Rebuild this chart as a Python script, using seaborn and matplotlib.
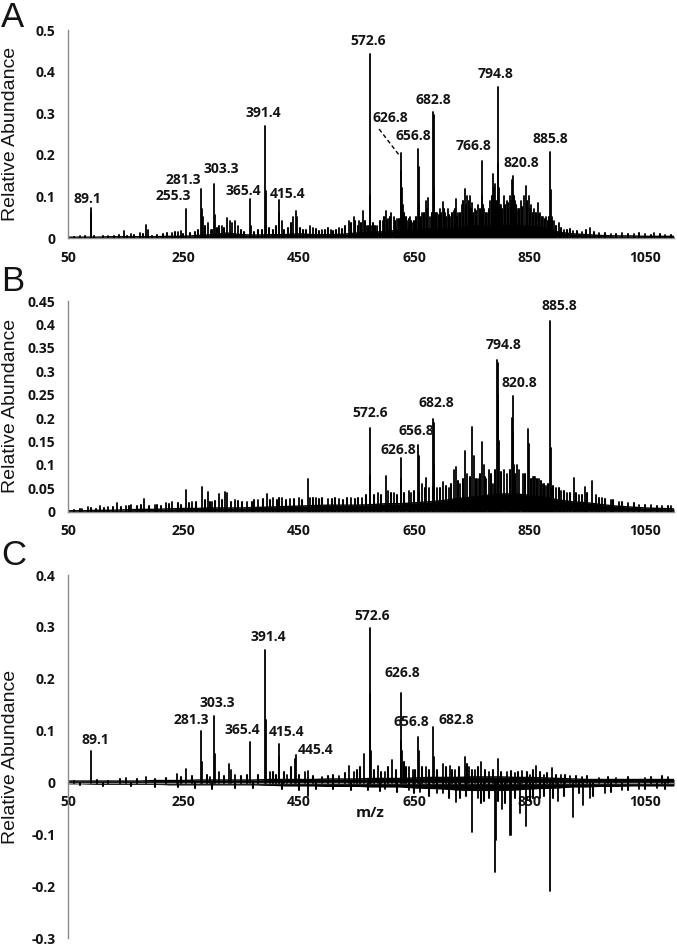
import numpy as np
import pandas as pd
import matplotlib
matplotlib.use("Agg")
import matplotlib.pyplot as plt
import seaborn as sns

sns.set_theme(style="white")
plt.rcParams["font.family"] = ["Open Sans", "DejaVu Sans"]

# ---------------- data ----------------
x_ticks = [50, 250, 450, 650, 850, 1050]

# noise-floor envelope (read every 25 m/z)
env_mz = [50, 75, 100, 125, 150, 175, 200, 225, 250, 275, 300, 325, 350, 375, 400,
          425, 450, 475, 500, 525, 550, 575, 600, 625, 650, 675, 700, 725, 750, 775,
          800, 825, 850, 875, 900, 925, 950, 975, 1000, 1025, 1050, 1075, 1100]

A_env = [0.002, 0.002, 0.002, 0.003, 0.003, 0.003, 0.003, 0.004, 0.004, 0.006, 0.008,
         0.012, 0.008, 0.007, 0.008, 0.008, 0.010, 0.008, 0.008, 0.009, 0.012, 0.014,
         0.015, 0.020, 0.018, 0.022, 0.022, 0.024, 0.030, 0.028, 0.030, 0.030, 0.028,
         0.024, 0.014, 0.010, 0.008, 0.006, 0.005, 0.005, 0.004, 0.004, 0.004]

B_env = [0.002, 0.002, 0.003, 0.003, 0.004, 0.005, 0.005, 0.006, 0.007, 0.007, 0.008,
         0.008, 0.008, 0.009, 0.010, 0.011, 0.012, 0.013, 0.014, 0.014, 0.014, 0.015,
         0.017, 0.017, 0.019, 0.021, 0.024, 0.028, 0.031, 0.035, 0.038, 0.038, 0.035,
         0.031, 0.025, 0.021, 0.019, 0.015, 0.012, 0.010, 0.008, 0.007, 0.006]

C_env_hi = [0.003, 0.003, 0.003, 0.003, 0.003, 0.003, 0.004, 0.004, 0.004, 0.005, 0.005,
            0.005, 0.005, 0.005, 0.006, 0.006, 0.006, 0.006, 0.007, 0.007, 0.007, 0.008,
            0.008, 0.008, 0.009, 0.010, 0.010, 0.010, 0.011, 0.011, 0.011, 0.010, 0.010,
            0.009, 0.008, 0.007, 0.006, 0.006, 0.006, 0.006, 0.006, 0.006, 0.006]
C_env_lo = [-0.002, -0.002, -0.003, -0.003, -0.003, -0.003, -0.003, -0.004, -0.004, -0.004,
            -0.004, -0.004, -0.004, -0.004, -0.005, -0.006, -0.006, -0.006, -0.007, -0.007,
            -0.007, -0.008, -0.008, -0.008, -0.010, -0.011, -0.012, -0.014, -0.015, -0.015,
            -0.015, -0.014, -0.012, -0.011, -0.010, -0.008, -0.008, -0.007, -0.007, -0.006,
            -0.006, -0.006, -0.006]

# Panel A peaks
A_mz = [89.1, 90.1, 255.3, 281.3, 282.3, 284.0, 303.3, 304.3, 365.4, 391.4, 392.4, 393.4,
        415.4, 416.4, 572.6, 573.6, 574.6, 626.8, 627.8, 628.8, 629.8, 656.8, 657.8, 658.8,
        682.8, 683.8, 684.8, 766.8, 767.8, 794.8, 795.8, 796.8, 820.8, 885.8, 886.8, 887.8,
        70, 120, 147, 160, 175, 186, 188, 230, 240, 245, 292, 298, 316, 325, 330, 335, 339,
        345, 367, 420, 440, 445, 447, 469, 475, 490, 505, 520, 537, 545, 555, 561, 566, 586,
        595, 600.6, 605, 610, 614, 620, 637, 642, 647, 664, 670, 674, 678, 690, 695, 699,
        703, 708, 713, 718, 722, 726, 732, 737.5, 742, 746, 750, 755, 760, 771, 777, 781,
        786.5, 790, 800, 805, 810, 815, 819, 825, 830, 835, 840, 843, 848, 852, 858, 864,
        868, 873, 878, 892, 900, 910, 925, 940, 955, 970, 990, 1010, 1030, 1050, 1065, 1085]
A_int = [0.071, 0.060, 0.069, 0.117, 0.070, 0.050, 0.131, 0.055, 0.093, 0.269, 0.112, 0.030,
         0.091, 0.060, 0.442, 0.103, 0.030, 0.204, 0.160, 0.120, 0.080, 0.213, 0.170, 0.080,
         0.304, 0.295, 0.120, 0.186, 0.100, 0.362, 0.180, 0.120, 0.148, 0.207, 0.115, 0.050,
         0.004, 0.006, 0.017, 0.010, 0.012, 0.031, 0.020, 0.012, 0.015, 0.018, 0.036, 0.020,
         0.030, 0.047, 0.040, 0.035, 0.040, 0.030, 0.030, 0.040, 0.050, 0.065, 0.050, 0.030,
         0.025, 0.020, 0.020, 0.025, 0.040, 0.050, 0.040, 0.065, 0.030, 0.030, 0.040, 0.065,
         0.045, 0.060, 0.050, 0.045, 0.040, 0.050, 0.035, 0.060, 0.090, 0.095, 0.050, 0.060,
         0.070, 0.087, 0.060, 0.070, 0.050, 0.065, 0.093, 0.060, 0.080, 0.117, 0.100, 0.100,
         0.085, 0.070, 0.080, 0.070, 0.060, 0.090, 0.155, 0.130, 0.080, 0.100, 0.090, 0.100,
         0.140, 0.090, 0.070, 0.090, 0.100, 0.125, 0.100, 0.080, 0.070, 0.083, 0.060, 0.050,
         0.050, 0.040, 0.035, 0.020, 0.018, 0.015, 0.025, 0.012, 0.010, 0.012, 0.010, 0.009,
         0.012, 0.008]
A_grass_mz = [60, 80, 95, 110, 130, 138, 152, 165, 180, 195, 205, 215, 222, 235, 250, 262,
              270, 275, 288, 300, 308, 312, 320, 350, 355, 372, 380, 386, 398, 405, 410, 425,
              432, 437, 452, 458, 463, 480, 485, 495, 500, 510, 515, 525, 530, 541, 548, 552,
              558, 564, 569, 578, 582, 590, 598, 603, 608, 617, 623, 632, 635, 640, 645, 650,
              653, 661, 667, 672, 680, 687, 692, 697, 701, 705, 711, 716, 720, 724, 729, 735,
              740, 744, 748, 752, 757, 763, 769, 774, 779, 784, 788, 792, 798, 802, 808, 812,
              817, 822, 827, 832, 837, 845, 850, 855, 861, 866, 871, 876, 881, 884, 889, 895,
              905, 915, 920, 932, 948, 962, 980, 1000, 1020, 1040, 1060, 1075, 1095]
A_grass_int = [0.003, 0.004, 0.005, 0.004, 0.006, 0.008, 0.006, 0.008, 0.010, 0.006, 0.008,
               0.010, 0.012, 0.015, 0.010, 0.012, 0.015, 0.020, 0.030, 0.020, 0.025, 0.030,
               0.025, 0.020, 0.015, 0.015, 0.020, 0.020, 0.025, 0.020, 0.030, 0.020, 0.025,
               0.035, 0.025, 0.020, 0.020, 0.022, 0.018, 0.020, 0.025, 0.018, 0.020, 0.022,
               0.030, 0.035, 0.040, 0.030, 0.035, 0.040, 0.030, 0.035, 0.030, 0.040, 0.050,
               0.040, 0.050, 0.040, 0.045, 0.060, 0.050, 0.045, 0.040, 0.040, 0.050, 0.050,
               0.060, 0.070, 0.060, 0.060, 0.055, 0.060, 0.070, 0.050, 0.055, 0.060, 0.070,
               0.050, 0.060, 0.090, 0.080, 0.090, 0.070, 0.060, 0.065, 0.070, 0.080, 0.060,
               0.070, 0.100, 0.120, 0.090, 0.080, 0.070, 0.080, 0.085, 0.090, 0.100, 0.080,
               0.070, 0.075, 0.090, 0.070, 0.060, 0.060, 0.055, 0.050, 0.045, 0.040, 0.050,
               0.040, 0.030, 0.025, 0.020, 0.022, 0.018, 0.020, 0.015, 0.012, 0.010, 0.010,
               0.012, 0.008, 0.010, 0.008]

# Panel B peaks
B_mz = [572.6, 573.6, 626.8, 627.8, 656.8, 657.8, 682.8, 683.8, 684.8, 792.8, 794.8, 795.8,
        796.8, 818.8, 820.8, 821.8, 822.8, 885.8, 886.8, 887.8,
        75, 85, 105, 120, 135, 150, 160, 181, 200, 220, 230, 254, 265, 282, 292, 300, 311,
        322, 326, 340, 360, 380, 395, 405, 420, 435, 450, 465.6, 470, 480, 500, 520, 540,
        560, 587, 600.6, 605, 615, 640, 645, 663, 671, 676, 690, 700, 710, 718, 722, 730,
        738.6, 742, 750.7, 753, 760, 767.5, 770, 775, 780, 786, 805, 810, 828, 832, 838,
        846.6, 849, 855, 860, 866, 872, 878, 895, 905, 915, 926.7, 935, 945, 957.9, 965,
        975, 990, 1005, 1020, 1040, 1060, 1080, 1095]
B_int = [0.179, 0.078, 0.114, 0.070, 0.142, 0.120, 0.197, 0.190, 0.100, 0.324, 0.318, 0.250,
         0.150, 0.200, 0.248, 0.170, 0.100, 0.408, 0.135, 0.050,
         0.005, 0.010, 0.012, 0.010, 0.018, 0.012, 0.015, 0.027, 0.015, 0.018, 0.020, 0.046,
         0.020, 0.053, 0.043, 0.020, 0.038, 0.043, 0.040, 0.025, 0.020, 0.025, 0.038, 0.030,
         0.030, 0.028, 0.030, 0.069, 0.030, 0.030, 0.028, 0.027, 0.030, 0.030, 0.040, 0.076,
         0.045, 0.040, 0.045, 0.040, 0.060, 0.071, 0.050, 0.050, 0.064, 0.050, 0.090, 0.095,
         0.060, 0.130, 0.080, 0.181, 0.120, 0.070, 0.148, 0.100, 0.070, 0.090, 0.060, 0.090,
         0.080, 0.100, 0.090, 0.080, 0.176, 0.145, 0.075, 0.075, 0.070, 0.060, 0.055, 0.050,
         0.045, 0.040, 0.071, 0.035, 0.053, 0.066, 0.035, 0.030, 0.025, 0.020, 0.018, 0.015,
         0.015, 0.012, 0.012]
B_grass_mz = [60, 70, 90, 98, 112, 128, 142, 155, 170, 176, 190, 205, 212, 225, 240, 246,
              260, 272, 287, 296, 305, 316, 333, 345, 352, 368, 373, 388, 400, 412, 415, 428,
              442, 456, 475, 485, 490, 508, 513, 527, 533, 548, 553, 566, 580, 593, 610, 620,
              633, 650, 658, 668, 682, 695, 705, 714, 726, 734, 746, 757, 763, 773, 783, 789,
              800, 815, 825, 842, 852, 858, 862, 869, 875, 882, 890, 900, 910, 920, 930, 940,
              950, 970, 980, 995, 1010, 1030, 1050, 1070, 1090]
B_grass_int = [0.004, 0.006, 0.008, 0.006, 0.008, 0.010, 0.010, 0.012, 0.012, 0.015, 0.012,
               0.015, 0.012, 0.016, 0.018, 0.015, 0.018, 0.020, 0.025, 0.020, 0.022, 0.025,
               0.020, 0.022, 0.020, 0.020, 0.025, 0.028, 0.025, 0.025, 0.030, 0.025, 0.028,
               0.025, 0.030, 0.028, 0.030, 0.028, 0.030, 0.025, 0.030, 0.028, 0.030, 0.035,
               0.035, 0.035, 0.040, 0.035, 0.040, 0.045, 0.040, 0.050, 0.050, 0.050, 0.055,
               0.060, 0.065, 0.070, 0.075, 0.070, 0.080, 0.075, 0.080, 0.090, 0.085, 0.090,
               0.080, 0.080, 0.070, 0.075, 0.070, 0.065, 0.060, 0.060, 0.055, 0.050, 0.045,
               0.040, 0.040, 0.035, 0.040, 0.030, 0.028, 0.025, 0.020, 0.018, 0.015, 0.013,
               0.012]

# Panel C peaks (positive and negative)
C_mz = [89.1, 281.3, 282.3, 303.3, 304.3, 365.4, 391.4, 392.4, 415.4, 416.4, 443.4, 445.4,
        572.6, 573.6, 574.6, 626.8, 627.8, 628.8, 656.8, 657.8, 682.8, 683.8,
        150, 185, 238, 254, 296, 312, 329, 333, 340, 400, 430, 460, 466.7, 490, 520, 537,
        545, 562.6, 587, 600, 611.6, 640, 648, 671, 700, 711.5, 720, 737.5, 745, 755, 766.4,
        780, 794.6, 810, 825, 836.7, 850, 861.7, 875, 889, 905, 920, 940, 970, 1000, 1050,
        1090,
        466.7, 600, 640, 660, 690, 700, 723, 750, 760, 789, 791, 802.7, 815, 818.2, 832.6,
        844, 867, 885, 899, 925, 942.4, 954, 980, 1010, 1040, 1070]
C_int = [0.060, 0.100, 0.040, 0.128, 0.055, 0.079, 0.256, 0.120, 0.074, 0.050, 0.045, 0.053,
         0.298, 0.170, 0.060, 0.173, 0.080, 0.060, 0.088, 0.060, 0.107, 0.050,
         0.008, 0.010, 0.016, 0.026, 0.010, 0.020, 0.035, 0.025, 0.015, 0.020, 0.015, 0.020,
         0.022, 0.010, 0.012, 0.032, 0.020, 0.056, 0.032, 0.020, 0.044, 0.030, 0.025, 0.030,
         0.036, 0.032, 0.025, 0.049, 0.030, 0.025, 0.039, 0.020, 0.046, 0.020, 0.018, 0.022,
         0.015, 0.032, 0.015, 0.028, 0.015, 0.012, 0.010, 0.008, 0.008, 0.008, 0.010,
         -0.026, -0.012, -0.015, -0.018, -0.020, -0.020, -0.037, -0.096, -0.030, -0.173,
         -0.110, -0.050, -0.100, -0.100, -0.059, -0.083, -0.030, -0.208, -0.035, -0.066,
         -0.043, -0.030, -0.020, -0.015, -0.012, -0.010]
C_grass_mz = [60, 100, 120, 140, 170, 200, 220, 245, 265, 290, 320, 350, 360, 380, 405, 410,
              425, 437, 450, 475, 500, 510, 530, 550, 556, 580, 592, 605, 618, 633, 636, 652,
              664, 676, 690, 705, 715, 728, 742, 750, 760, 772, 786, 800, 818, 830, 845, 856,
              868, 880, 895, 912, 930, 950, 985, 1020, 1060, 1080,
              70, 110, 160, 200, 240, 270, 300, 340, 370, 420, 450, 480, 510, 540, 570, 590,
              620, 650, 675, 710, 730, 740, 765, 770, 780, 795, 808, 825, 850, 855, 875, 890,
              910, 935, 960, 990, 1020, 1050, 1085]
C_grass_int = [0.004, 0.005, 0.004, 0.006, 0.006, 0.006, 0.008, 0.010, 0.012, 0.015, 0.012,
               0.012, 0.015, 0.015, 0.020, 0.015, 0.020, 0.030, 0.015, 0.012, 0.012, 0.015,
               0.018, 0.025, 0.030, 0.025, 0.020, 0.030, 0.025, 0.040, 0.030, 0.025, 0.030,
               0.025, 0.025, 0.030, 0.025, 0.030, 0.035, 0.025, 0.030, 0.025, 0.025, 0.020,
               0.022, 0.020, 0.020, 0.025, 0.020, 0.018, 0.015, 0.015, 0.012, 0.012, 0.010,
               0.010, 0.010, 0.012,
               -0.004, -0.006, -0.006, -0.008, -0.008, -0.010, -0.012, -0.010, -0.010,
               -0.012, -0.015, -0.012, -0.012, -0.015, -0.015, -0.016, -0.018, -0.020,
               -0.025, -0.030, -0.030, -0.025, -0.040, -0.035, -0.030, -0.035, -0.040,
               -0.030, -0.035, -0.030, -0.025, -0.030, -0.025, -0.020, -0.025, -0.018,
               -0.015, -0.012, -0.012]

# peak labels: text, x position, y position (bottom of text)
A_lab = ["89.1", "255.3", "281.3", "303.3", "365.4", "391.4", "415.4", "572.6", "626.8",
         "656.8", "682.8", "766.8", "794.8", "820.8", "885.8"]
A_lab_x = [83, 232, 249, 316, 354, 388, 431, 570, 608, 648, 683, 752, 791, 836, 886]
A_lab_y = [0.077, 0.083, 0.122, 0.149, 0.097, 0.284, 0.089, 0.457, 0.272, 0.228, 0.316,
           0.204, 0.378, 0.163, 0.220]

B_lab = ["572.6", "626.8", "656.8", "682.8", "794.8", "820.8", "885.8"]
B_lab_x = [573, 622, 653, 689, 804, 832, 902]
B_lab_y = [0.196, 0.116, 0.157, 0.217, 0.342, 0.260, 0.424]

C_lab = ["89.1", "281.3", "303.3", "365.4", "391.4", "415.4", "445.4", "572.6", "626.8",
         "656.8", "682.8"]
C_lab_x = [98, 264, 309, 352, 397, 429, 479, 577, 630, 645, 723]
C_lab_y = [0.069, 0.107, 0.140, 0.087, 0.268, 0.084, 0.049, 0.308, 0.197, 0.103, 0.107]

A_yticks = [0, 0.1, 0.2, 0.3, 0.4, 0.5]
B_yticks = [0, 0.05, 0.1, 0.15, 0.2, 0.25, 0.3, 0.35, 0.4, 0.45]
C_yticks = [-0.3, -0.2, -0.1, 0, 0.1, 0.2, 0.3, 0.4]

# ---------------- drawing ----------------
W, H = 677, 947
fig = plt.figure(figsize=(W / 100, H / 100), dpi=100)

AXC = "#8a8a8a"
TXT = "#141414"


def px_axes(top, bottom, left=68, right=674):
    return fig.add_axes([left / W, 1 - bottom / H, (right - left) / W, (bottom - top) / H])


def stems(ax, mz, inten, lw):
    n = len(mz)
    df = pd.DataFrame({
        "mz": np.repeat(np.asarray(mz, float), 2),
        "val": np.column_stack([np.zeros(n), np.asarray(inten, float)]).ravel(),
        "pk": np.repeat(np.arange(n), 2),
    })
    sns.lineplot(data=df, x="mz", y="val", units="pk", estimator=None, sort=False,
                 color="black", lw=lw, ax=ax, legend=False, zorder=3)


def draw_spec(ax, mz, inten, gmz, gint, env_lo, env_hi):
    ax.fill_between(env_mz, env_lo, env_hi, color="black", lw=0, zorder=2)
    sns.lineplot(x=env_mz, y=env_hi, ax=ax, color="black", lw=1.0, zorder=2)
    sns.lineplot(x=env_mz, y=env_lo, ax=ax, color="black", lw=1.0, zorder=2)
    stems(ax, gmz, gint, 1.5)
    stems(ax, mz, inten, 1.3)


def style(ax, yticks, ylim, zero_axis=False):
    ax.set_xlim(50, 1100)
    ax.set_ylim(*ylim)
    ax.set_xticks(x_ticks)
    ax.set_xticklabels([str(t) for t in x_ticks])
    ax.set_yticks(yticks)
    ax.set_yticklabels([f"{v:g}" for v in yticks])
    for s in ["top", "right"]:
        ax.spines[s].set_visible(False)
    for s in ["left", "bottom"]:
        ax.spines[s].set_color(AXC)
        ax.spines[s].set_linewidth(1.0)
    if zero_axis:
        ax.spines["bottom"].set_position(("data", 0))
    ax.tick_params(axis="both", direction="out", length=4, width=1, color=AXC,
                   labelsize=10, labelcolor=TXT, pad=5)
    for lab in ax.get_xticklabels() + ax.get_yticklabels():
        lab.set_fontweight("bold")
    ax.set_xlabel("")
    ax.set_ylabel("")
    ax.grid(False)
    ax.set_facecolor("none")


def labels(ax, txt, xs, ys):
    for t, x, y in zip(txt, xs, ys):
        ax.text(x, y, t, ha="center", va="bottom", fontsize=10, fontweight="bold",
                color=TXT, zorder=5)


zeros = [0] * len(env_mz)

# Panel A
axA = px_axes(30, 238)
draw_spec(axA, A_mz, A_int, A_grass_mz, A_grass_int, zeros, A_env)
style(axA, A_yticks, (0, 0.5))
labels(axA, A_lab, A_lab_x, A_lab_y)
axA.plot([589, 625], [0.262, 0.197], ls=(0, (3, 2)), color="black", lw=1.0, zorder=5)

# Panel B
axB = px_axes(301, 511.7)
draw_spec(axB, B_mz, B_int, B_grass_mz, B_grass_int, zeros, B_env)
style(axB, B_yticks, (0, 0.45))
labels(axB, B_lab, B_lab_x, B_lab_y)

# Panel C
axC = px_axes(575, 938.3)
draw_spec(axC, C_mz, C_int, C_grass_mz, C_grass_int, C_env_lo, C_env_hi)
style(axC, C_yticks, (-0.3, 0.4), zero_axis=True)
labels(axC, C_lab, C_lab_x, C_lab_y)
axC.text(573, -0.058, "m/z", ha="center", va="center", fontsize=11, fontweight="bold",
         color=TXT)

# y labels and panel letters
for yc in [134, 406, 757]:
    fig.text(2 / W, 1 - yc / H, "Relative Abundance", rotation=90, ha="left", va="center",
             fontsize=14, family=["Liberation Sans", "DejaVu Sans"], color=TXT)
for letter, top in [("A", 1), ("B", 265), ("C", 539)]:
    fig.text(1 / W, 1 - top / H, letter, ha="left", va="top", fontsize=25,
             family=["Liberation Sans", "DejaVu Sans"], color=TXT)

fig.savefig("out.png", dpi=100, facecolor="white")
